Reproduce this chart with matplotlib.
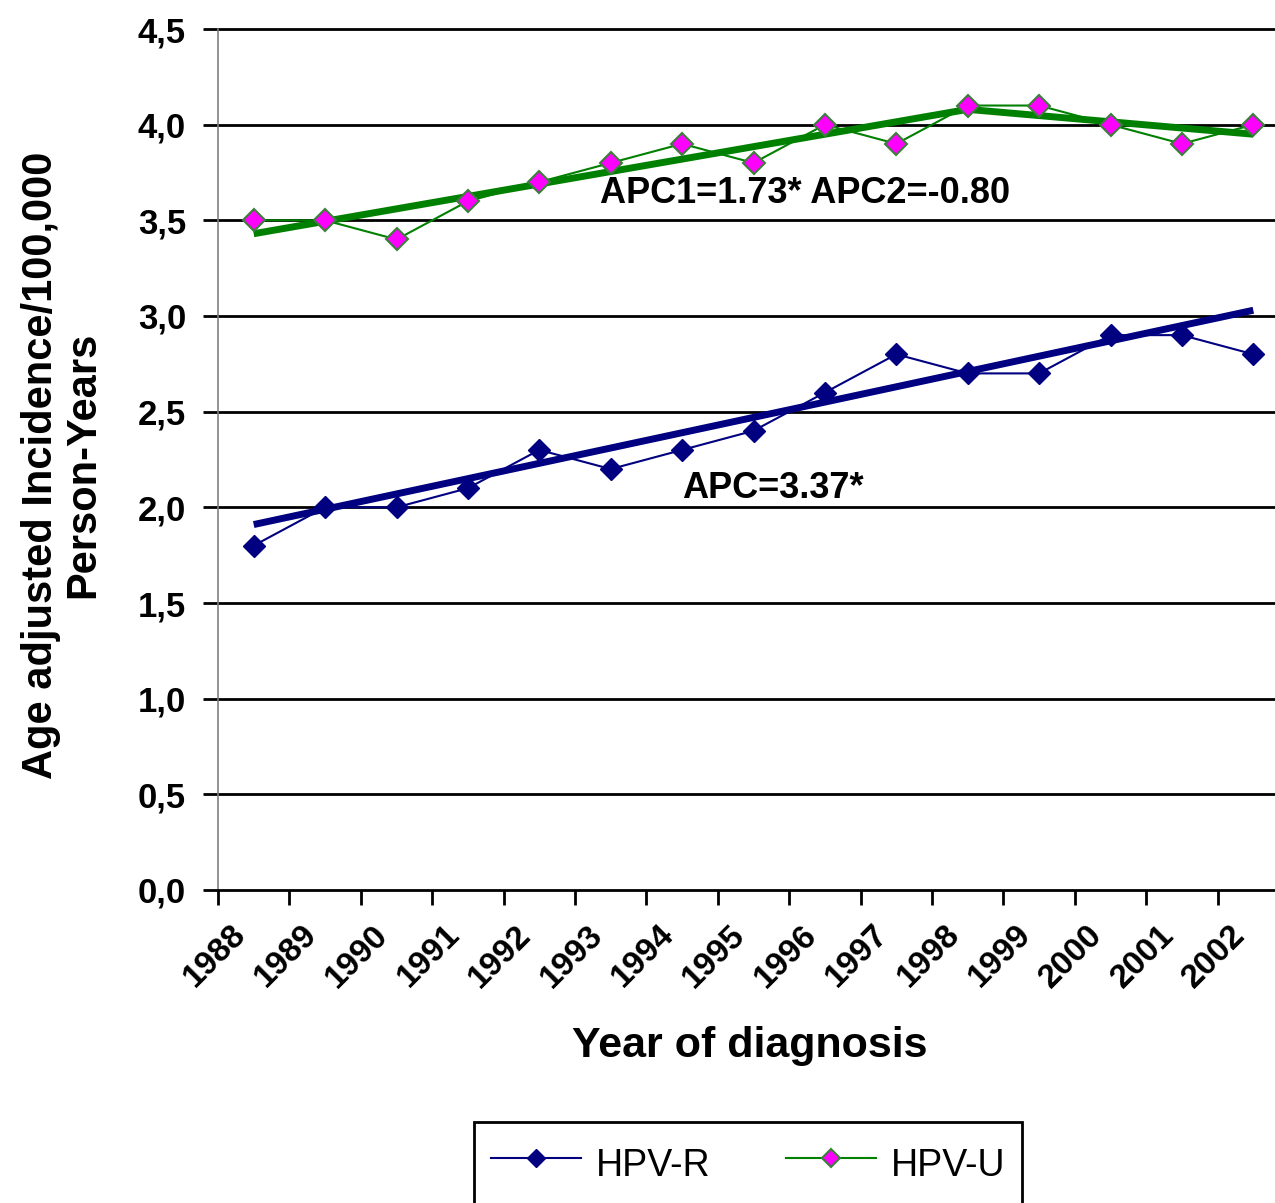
import matplotlib
matplotlib.use('Agg')
import matplotlib.pyplot as plt
import matplotlib.transforms as mtransforms

plt.rcParams['font.family'] = ['Liberation Sans', 'DejaVu Sans']

# Data
years = ['1988', '1989', '1990', '1991', '1992', '1993', '1994', '1995',
         '1996', '1997', '1998', '1999', '2000', '2001', '2002']
hpv_r = [1.8, 2.0, 2.0, 2.1, 2.3, 2.2, 2.3, 2.4, 2.6, 2.8, 2.7, 2.7, 2.9, 2.9, 2.8]
hpv_u = [3.5, 3.5, 3.4, 3.6, 3.7, 3.8, 3.9, 3.8, 4.0, 3.9, 4.1, 4.1, 4.0, 3.9, 4.0]

# joinpoint fits (year index, fitted value)
fit_r_idx = [0, 14]
fit_r_val = [1.91, 3.03]
fit_u_idx = [0, 10, 14]
fit_u_val = [3.43, 4.08, 3.95]

y_ticks = [0.0, 0.5, 1.0, 1.5, 2.0, 2.5, 3.0, 3.5, 4.0, 4.5]

navy = '#000080'
green = '#008000'

fig = plt.figure(figsize=(12.75, 12.03), dpi=100)
ax = fig.add_axes([218 / 1275, 1 - 890 / 1203, (1275 - 218) / 1275, 861 / 1203])

x = [i + 0.5 for i in range(len(years))]

# horizontal grid lines
for yv in y_ticks[1:]:
    ax.axhline(yv, color='black', lw=2.0, zorder=1, clip_on=False)

# data series
ax.plot(x, hpv_r, color=navy, lw=1.5, marker='D', markersize=11,
        markerfacecolor=navy, markeredgecolor=navy, zorder=4, label='HPV-R')
ax.plot(x, hpv_u, color=green, lw=1.5, marker='D', markersize=11,
        markerfacecolor='#ff00ff', markeredgecolor='#3c7f3c', markeredgewidth=1.5,
        zorder=4, label='HPV-U')

# trend lines
ax.plot([x[i] for i in fit_r_idx], fit_r_val, color=navy, lw=5, zorder=3,
        solid_capstyle='butt')
ax.plot([x[i] for i in fit_u_idx], fit_u_val, color=green, lw=5, zorder=3,
        solid_capstyle='butt')

ax.text(5.35, 3.64, 'APC1=1.73* APC2=-0.80', fontsize=26, fontweight='bold',
        ha='left', va='center', zorder=5)
ax.text(6.5, 2.1, 'APC=3.37*', fontsize=26, fontweight='bold',
        ha='left', va='center', zorder=5)

ax.set_xlim(0, 1057 / 71.4)
ax.set_ylim(0, 4.5)

ax.set_yticks(y_ticks)
ax.set_yticklabels([f'{v:.1f}'.replace('.', ',') for v in y_ticks],
                   fontsize=25, fontweight='bold')
ax.tick_params(axis='y', direction='out', length=11, width=2.0, pad=12, colors='black')

ax.set_xticks(range(len(years)))
ax.set_xticklabels(years, fontsize=24, fontweight='bold', rotation=45,
                   ha='right', va='top', rotation_mode='anchor')
ax.tick_params(axis='x', direction='out', length=11, width=2.0, pad=10)
offset = mtransforms.ScaledTranslation(0.12, 0, fig.dpi_scale_trans)
for lbl in ax.get_xticklabels():
    lbl.set_transform(lbl.get_transform() + offset)

for side in ['top', 'right']:
    ax.spines[side].set_visible(False)
ax.spines['left'].set_color('#808080')
ax.spines['left'].set_linewidth(1.2)
ax.spines['bottom'].set_color('black')
ax.spines['bottom'].set_linewidth(2.0)

ax.set_xlabel('Year of diagnosis', fontsize=31, fontweight='bold')
ax.xaxis.set_label_coords(0.503, -0.158)
ax.xaxis.label.set_va('top')

fig.text(62 / 1275, 1 - 465 / 1203, 'Age adjusted Incidence/100,000\nPerson-Years',
         fontsize=30, fontweight='bold', rotation=90, ha='center', va='center',
         multialignment='center', linespacing=1.05)

leg = fig.legend(loc='upper center', bbox_to_anchor=(748 / 1275, 1 - 1122 / 1203),
                 ncol=2, fontsize=27, frameon=True, fancybox=False, shadow=False,
                 framealpha=1, handlelength=2.4, handleheight=1.7, columnspacing=2.0,
                 borderpad=0.45, handletextpad=0.4, borderaxespad=0)
leg.get_frame().set_edgecolor('black')
leg.get_frame().set_linewidth(2.0)
for h in leg.legend_handles:
    h.set_markersize(9)

fig.savefig('out.png', dpi=100)
